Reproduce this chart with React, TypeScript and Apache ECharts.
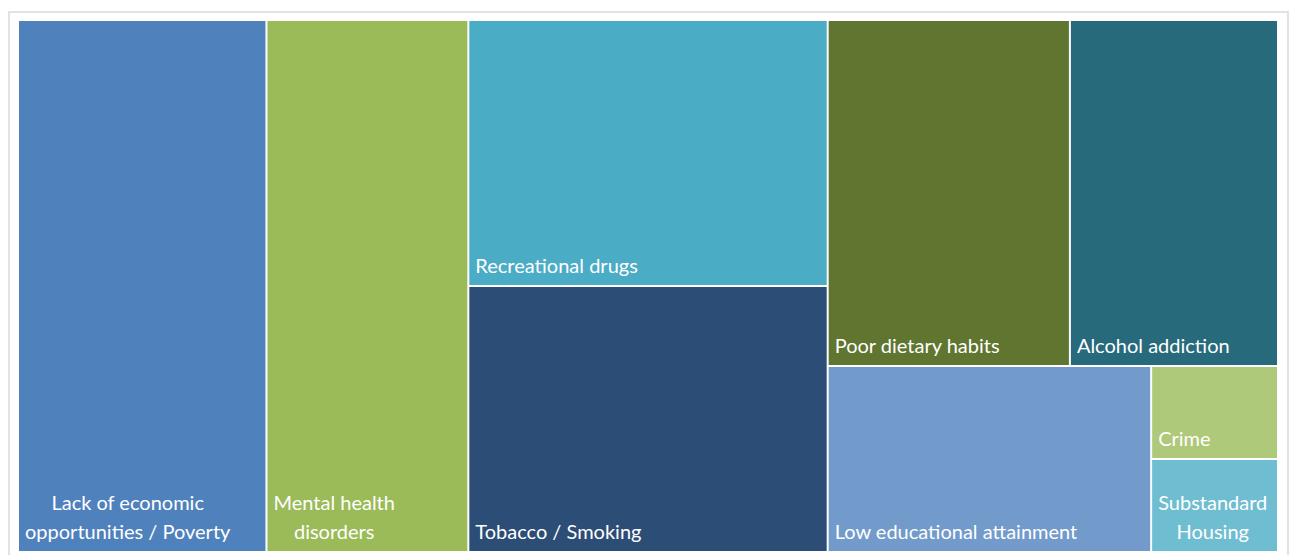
import React, { useEffect, useRef } from 'react';
import * as echarts from 'echarts';

// Categories (line breaks as wrapped in the original)
const categories: string[] = [
  'Lack of economic\nopportunities / Poverty',
  'Mental health\ndisorders',
  'Recreational drugs',
  'Tobacco / Smoking',
  'Poor dietary habits',
  'Alcohol addiction',
  'Low educational attainment',
  'Crime',
  'Substandard\nHousing',
];

// Values read from the areas of the rectangles
const values: number[] = [112, 91, 81, 81, 71, 61, 51, 10, 10];

// Fill colours
const colors: string[] = [
  '#4F81BD',
  '#9BBB59',
  '#4BACC6',
  '#2C4D75',
  '#5F7530',
  '#276A7C',
  '#729ACA',
  '#AFC97A',
  '#6FBDD1',
];

// Nesting of category indices, reproducing the original tiling
type Group = number | Group[];
const grouping: Group[] = [0, 1, [2, 3], [[4, 5], [6, [7, 8]]]];

const FONT = 'Lato';
const FS = 20;
const LH = 29;
const PAD_X = 6;

let measure: (s: string) => number = (s) => s.length * FS * 0.5;

function build(g: Group): any {
  if (typeof g === 'number') {
    const name = categories[g];
    const lines = name.split('\n');
    const item: any = { name, value: values[g], itemStyle: { color: colors[g] } };
    if (lines.length > 1) {
      // wrapped labels: lines centred on each other, block kept at the left
      const maxW = Math.max(...lines.map((l) => measure(l)));
      item.label = { align: 'center', offset: [maxW / 2 + PAD_X, 0] };
    }
    return item;
  }
  const children = g.map(build);
  const sum = children.reduce((s: number, c: any) => s + c.value, 0);
  return { name: '', value: sum, children, itemStyle: { borderWidth: 0, gapWidth: 0 } };
}

export default function App() {
  const ref = useRef<HTMLDivElement>(null);

  useEffect(() => {
    if (!ref.current) return;
    const ctx = document.createElement('canvas').getContext('2d');
    if (ctx) {
      ctx.font = `${FS}px ${FONT}`;
      measure = (s) => ctx.measureText(s).width;
    }
    const chart = echarts.init(ref.current, null, { renderer: 'svg' });
    chart.setOption({
      animation: false,
      backgroundColor: '#ffffff',
      graphic: [
        {
          type: 'rect',
          silent: true,
          z: -10,
          shape: { x: 9, y: 12, width: 1279, height: 560 },
          style: { fill: 'none', stroke: '#d9d9d9', lineWidth: 1.5 },
        },
      ],
      series: [
        {
          type: 'treemap',
          left: 18,
          top: 20,
          width: 1260,
          height: 532,
          roam: false,
          nodeClick: false,
          sort: false,
          squareRatio: 0.8,
          breadcrumb: { show: false },
          levels: [{ itemStyle: { borderWidth: 0, gapWidth: 0 } }],
          itemStyle: { borderWidth: 1, borderColor: '#ffffff', gapWidth: 0 },
          upperLabel: { show: false },
          label: {
            show: true,
            position: 'insideBottomLeft',
            align: 'left',
            verticalAlign: 'bottom',
            distance: 0,
            padding: [0, PAD_X, 5.5, PAD_X],
            color: '#ffffff',
            fontFamily: FONT,
            fontSize: FS,
            lineHeight: LH,
            overflow: 'none',
          },
          emphasis: { disabled: true },
          data: grouping.map(build),
        },
      ],
    });
    return () => chart.dispose();
  }, []);

  return (
    <div
      ref={ref}
      style={{ position: 'absolute', left: 0, top: 0, width: 1293, height: 555 }}
    />
  );
}
